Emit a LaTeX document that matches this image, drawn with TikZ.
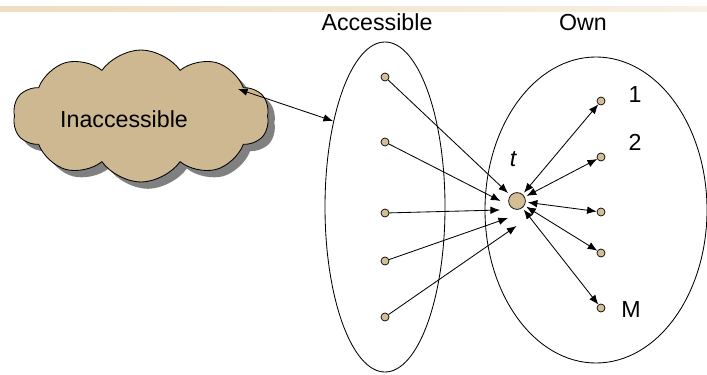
\documentclass[tikz,border=0pt]{standalone}
\usepackage{fontspec}
\setmainfont{Liberation Sans}
\usetikzlibrary{arrows.meta,shapes.symbols,shadows}

\definecolor{cloudtan}{RGB}{205,184,145}
\definecolor{dottan}{RGB}{212,190,150}
\definecolor{bardark}{RGB}{238,221,192}
\definecolor{barlight}{RGB}{247,240,228}

\tikzset{
  ptdot/.style={circle,draw,fill=dottan,inner sep=0pt,minimum size=0.2cm,line width=0.5pt},
  hubdot/.style={ptdot,minimum size=0.42cm},
  lbl/.style={anchor=base,inner sep=0pt,font=\fontsize{16.5}{19}\selectfont},
  accarrow/.style={-{Latex[length=2.4mm,width=1.9mm]},line width=0.6pt},
  ownarrow/.style={{Latex[length=2.4mm,width=1.9mm]}-{Latex[length=2.4mm,width=1.9mm]},line width=0.6pt,shorten <=1.5pt}
}

\begin{document}
\begin{tikzpicture}[x=0.025cm,y=-0.025cm]
\useasboundingbox (0,0) rectangle (707,374);
\shade[left color=bardark,right color=barlight] (0,7) rectangle (707,12);

% the cloud
\node[cloud,cloud puffs=10,cloud puff arc=110,aspect=2,draw,fill=cloudtan,line width=0.6pt,
      minimum width=6.4cm,minimum height=3.3cm,
      drop shadow={shadow xshift=0.17cm,shadow yshift=-0.17cm,fill=black!50,opacity=1}]
      (cloud) at (141,116) {};
\node[lbl] (lblinacc) at (124,127) {Inaccessible};

% the two sets
\draw[line width=0.6pt] (385,207) ellipse [x radius=60,y radius=165];
\draw[line width=0.6pt] (596,210) ellipse [x radius=111,y radius=153];
\node[lbl] (lblacc) at (377,31) {Accessible};
\node[lbl] (lblown) at (583,31) {Own};

\coordinate (cloudpt) at (238,89);
\coordinate (accrim) at (333,121);
\draw[ownarrow,shorten <=0pt] (cloudpt) -- (accrim);

% t
\node[hubdot] (t) at (517,201) {};
\node[lbl] (lblt) at (513,166) {\itshape t};

% accessible points
\foreach \n/\y in {1/77,2/142,3/213,4/261,5/317}
  \node[ptdot] (a\n) at (385,\y) {};
\foreach \n/\x/\y in {1/508/193,2/500.5/201,3/500/210,4/508/218,5/516.5/226}
  \coordinate (tip\n) at (\x,\y);
\foreach \n in {1,...,5}
  \draw[accarrow] (a\n) -- (tip\n);

% own points
\foreach \n/\y in {1/101,2/157,3/212,4/253,5/308}
  \node[ptdot] (o\n) at (601,\y) {};
\foreach \n in {1,...,5}
  \draw[ownarrow] (t) -- (o\n);
\node[lbl] (lbl1) at (635,102) {1};
\node[lbl] (lbl2) at (635,150) {2};
\node[lbl] (lblM) at (631,317) {M};
\end{tikzpicture}
\end{document}
